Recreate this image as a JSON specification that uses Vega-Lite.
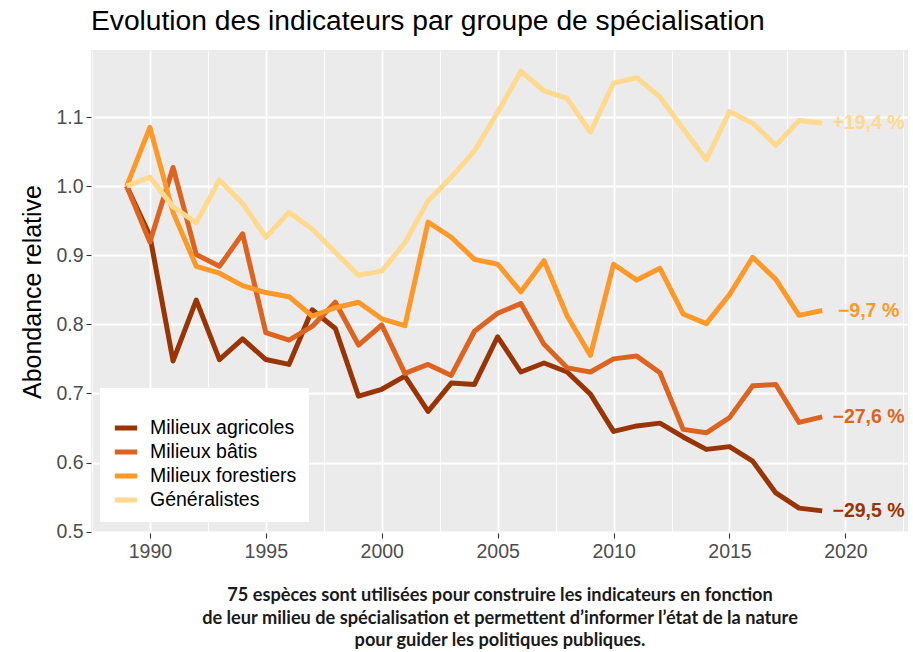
{
  "$schema": "https://vega.github.io/schema/vega-lite/v6.json",
  "width": 817,
  "height": 483,
  "autosize": {"type": "none"},
  "padding": {"left": 91, "top": 50, "right": 5, "bottom": 119},
  "background": "white",
  "config": {
    "font": "Liberation Sans",
    "view": {"fill": "#EBEBEB", "stroke": null}
  },
  "title": {
    "text": "Evolution des indicateurs par groupe de spécialisation",
    "anchor": "start",
    "frame": "group",
    "fontSize": 28.2,
    "fontWeight": "normal",
    "color": "#000000",
    "baseline": "alphabetic",
    "offset": 20,
    "dy": 28
  },
  "datasets": {
    "series": [
      {"annee": 1989, "groupe": "Milieux agricoles", "valeur": 1.0},
      {"annee": 1990, "groupe": "Milieux agricoles", "valeur": 0.928},
      {"annee": 1991, "groupe": "Milieux agricoles", "valeur": 0.747},
      {"annee": 1992, "groupe": "Milieux agricoles", "valeur": 0.835},
      {"annee": 1993, "groupe": "Milieux agricoles", "valeur": 0.749},
      {"annee": 1994, "groupe": "Milieux agricoles", "valeur": 0.779},
      {"annee": 1995, "groupe": "Milieux agricoles", "valeur": 0.749},
      {"annee": 1996, "groupe": "Milieux agricoles", "valeur": 0.742},
      {"annee": 1997, "groupe": "Milieux agricoles", "valeur": 0.821},
      {"annee": 1998, "groupe": "Milieux agricoles", "valeur": 0.794},
      {"annee": 1999, "groupe": "Milieux agricoles", "valeur": 0.696},
      {"annee": 2000, "groupe": "Milieux agricoles", "valeur": 0.706},
      {"annee": 2001, "groupe": "Milieux agricoles", "valeur": 0.725},
      {"annee": 2002, "groupe": "Milieux agricoles", "valeur": 0.674},
      {"annee": 2003, "groupe": "Milieux agricoles", "valeur": 0.715},
      {"annee": 2004, "groupe": "Milieux agricoles", "valeur": 0.713},
      {"annee": 2005, "groupe": "Milieux agricoles", "valeur": 0.782},
      {"annee": 2006, "groupe": "Milieux agricoles", "valeur": 0.731},
      {"annee": 2007, "groupe": "Milieux agricoles", "valeur": 0.744},
      {"annee": 2008, "groupe": "Milieux agricoles", "valeur": 0.731},
      {"annee": 2009, "groupe": "Milieux agricoles", "valeur": 0.699},
      {"annee": 2010, "groupe": "Milieux agricoles", "valeur": 0.645},
      {"annee": 2011, "groupe": "Milieux agricoles", "valeur": 0.653},
      {"annee": 2012, "groupe": "Milieux agricoles", "valeur": 0.657},
      {"annee": 2013, "groupe": "Milieux agricoles", "valeur": 0.637},
      {"annee": 2014, "groupe": "Milieux agricoles", "valeur": 0.619},
      {"annee": 2015, "groupe": "Milieux agricoles", "valeur": 0.623},
      {"annee": 2016, "groupe": "Milieux agricoles", "valeur": 0.602},
      {"annee": 2017, "groupe": "Milieux agricoles", "valeur": 0.556},
      {"annee": 2018, "groupe": "Milieux agricoles", "valeur": 0.534},
      {"annee": 2019, "groupe": "Milieux agricoles", "valeur": 0.530},
      {"annee": 1989, "groupe": "Milieux bâtis", "valeur": 1.0},
      {"annee": 1990, "groupe": "Milieux bâtis", "valeur": 0.919},
      {"annee": 1991, "groupe": "Milieux bâtis", "valeur": 1.027},
      {"annee": 1992, "groupe": "Milieux bâtis", "valeur": 0.901},
      {"annee": 1993, "groupe": "Milieux bâtis", "valeur": 0.884},
      {"annee": 1994, "groupe": "Milieux bâtis", "valeur": 0.931},
      {"annee": 1995, "groupe": "Milieux bâtis", "valeur": 0.788},
      {"annee": 1996, "groupe": "Milieux bâtis", "valeur": 0.777},
      {"annee": 1997, "groupe": "Milieux bâtis", "valeur": 0.797},
      {"annee": 1998, "groupe": "Milieux bâtis", "valeur": 0.832},
      {"annee": 1999, "groupe": "Milieux bâtis", "valeur": 0.770},
      {"annee": 2000, "groupe": "Milieux bâtis", "valeur": 0.799},
      {"annee": 2001, "groupe": "Milieux bâtis", "valeur": 0.729},
      {"annee": 2002, "groupe": "Milieux bâtis", "valeur": 0.742},
      {"annee": 2003, "groupe": "Milieux bâtis", "valeur": 0.726},
      {"annee": 2004, "groupe": "Milieux bâtis", "valeur": 0.790},
      {"annee": 2005, "groupe": "Milieux bâtis", "valeur": 0.816},
      {"annee": 2006, "groupe": "Milieux bâtis", "valeur": 0.830},
      {"annee": 2007, "groupe": "Milieux bâtis", "valeur": 0.771},
      {"annee": 2008, "groupe": "Milieux bâtis", "valeur": 0.737},
      {"annee": 2009, "groupe": "Milieux bâtis", "valeur": 0.731},
      {"annee": 2010, "groupe": "Milieux bâtis", "valeur": 0.750},
      {"annee": 2011, "groupe": "Milieux bâtis", "valeur": 0.754},
      {"annee": 2012, "groupe": "Milieux bâtis", "valeur": 0.730},
      {"annee": 2013, "groupe": "Milieux bâtis", "valeur": 0.648},
      {"annee": 2014, "groupe": "Milieux bâtis", "valeur": 0.643},
      {"annee": 2015, "groupe": "Milieux bâtis", "valeur": 0.665},
      {"annee": 2016, "groupe": "Milieux bâtis", "valeur": 0.711},
      {"annee": 2017, "groupe": "Milieux bâtis", "valeur": 0.713},
      {"annee": 2018, "groupe": "Milieux bâtis", "valeur": 0.658},
      {"annee": 2019, "groupe": "Milieux bâtis", "valeur": 0.666},
      {"annee": 1989, "groupe": "Milieux forestiers", "valeur": 1.0},
      {"annee": 1990, "groupe": "Milieux forestiers", "valeur": 1.085},
      {"annee": 1991, "groupe": "Milieux forestiers", "valeur": 0.962},
      {"annee": 1992, "groupe": "Milieux forestiers", "valeur": 0.884},
      {"annee": 1993, "groupe": "Milieux forestiers", "valeur": 0.874},
      {"annee": 1994, "groupe": "Milieux forestiers", "valeur": 0.856},
      {"annee": 1995, "groupe": "Milieux forestiers", "valeur": 0.846},
      {"annee": 1996, "groupe": "Milieux forestiers", "valeur": 0.840},
      {"annee": 1997, "groupe": "Milieux forestiers", "valeur": 0.812},
      {"annee": 1998, "groupe": "Milieux forestiers", "valeur": 0.824},
      {"annee": 1999, "groupe": "Milieux forestiers", "valeur": 0.832},
      {"annee": 2000, "groupe": "Milieux forestiers", "valeur": 0.808},
      {"annee": 2001, "groupe": "Milieux forestiers", "valeur": 0.798},
      {"annee": 2002, "groupe": "Milieux forestiers", "valeur": 0.948},
      {"annee": 2003, "groupe": "Milieux forestiers", "valeur": 0.926},
      {"annee": 2004, "groupe": "Milieux forestiers", "valeur": 0.894},
      {"annee": 2005, "groupe": "Milieux forestiers", "valeur": 0.887},
      {"annee": 2006, "groupe": "Milieux forestiers", "valeur": 0.847},
      {"annee": 2007, "groupe": "Milieux forestiers", "valeur": 0.892},
      {"annee": 2008, "groupe": "Milieux forestiers", "valeur": 0.812},
      {"annee": 2009, "groupe": "Milieux forestiers", "valeur": 0.755},
      {"annee": 2010, "groupe": "Milieux forestiers", "valeur": 0.887},
      {"annee": 2011, "groupe": "Milieux forestiers", "valeur": 0.864},
      {"annee": 2012, "groupe": "Milieux forestiers", "valeur": 0.881},
      {"annee": 2013, "groupe": "Milieux forestiers", "valeur": 0.815},
      {"annee": 2014, "groupe": "Milieux forestiers", "valeur": 0.801},
      {"annee": 2015, "groupe": "Milieux forestiers", "valeur": 0.843},
      {"annee": 2016, "groupe": "Milieux forestiers", "valeur": 0.897},
      {"annee": 2017, "groupe": "Milieux forestiers", "valeur": 0.865},
      {"annee": 2018, "groupe": "Milieux forestiers", "valeur": 0.813},
      {"annee": 2019, "groupe": "Milieux forestiers", "valeur": 0.820},
      {"annee": 1989, "groupe": "Généralistes", "valeur": 1.0},
      {"annee": 1990, "groupe": "Généralistes", "valeur": 1.013},
      {"annee": 1991, "groupe": "Généralistes", "valeur": 0.970},
      {"annee": 1992, "groupe": "Généralistes", "valeur": 0.947},
      {"annee": 1993, "groupe": "Généralistes", "valeur": 1.009},
      {"annee": 1994, "groupe": "Généralistes", "valeur": 0.975},
      {"annee": 1995, "groupe": "Généralistes", "valeur": 0.926},
      {"annee": 1996, "groupe": "Généralistes", "valeur": 0.962},
      {"annee": 1997, "groupe": "Généralistes", "valeur": 0.938},
      {"annee": 1998, "groupe": "Généralistes", "valeur": 0.904},
      {"annee": 1999, "groupe": "Généralistes", "valeur": 0.871},
      {"annee": 2000, "groupe": "Généralistes", "valeur": 0.877},
      {"annee": 2001, "groupe": "Généralistes", "valeur": 0.918},
      {"annee": 2002, "groupe": "Généralistes", "valeur": 0.979},
      {"annee": 2003, "groupe": "Généralistes", "valeur": 1.013},
      {"annee": 2004, "groupe": "Généralistes", "valeur": 1.051},
      {"annee": 2005, "groupe": "Généralistes", "valeur": 1.107},
      {"annee": 2006, "groupe": "Généralistes", "valeur": 1.166},
      {"annee": 2007, "groupe": "Généralistes", "valeur": 1.138},
      {"annee": 2008, "groupe": "Généralistes", "valeur": 1.127},
      {"annee": 2009, "groupe": "Généralistes", "valeur": 1.078},
      {"annee": 2010, "groupe": "Généralistes", "valeur": 1.149},
      {"annee": 2011, "groupe": "Généralistes", "valeur": 1.157},
      {"annee": 2012, "groupe": "Généralistes", "valeur": 1.129},
      {"annee": 2013, "groupe": "Généralistes", "valeur": 1.083},
      {"annee": 2014, "groupe": "Généralistes", "valeur": 1.038},
      {"annee": 2015, "groupe": "Généralistes", "valeur": 1.108},
      {"annee": 2016, "groupe": "Généralistes", "valeur": 1.091},
      {"annee": 2017, "groupe": "Généralistes", "valeur": 1.059},
      {"annee": 2018, "groupe": "Généralistes", "valeur": 1.095},
      {"annee": 2019, "groupe": "Généralistes", "valeur": 1.091}
    ],
    "etiquettes": [
      {"annee": 2021, "groupe": "Milieux agricoles", "valeur": 0.530, "texte": "−29,5 %"},
      {"annee": 2021, "groupe": "Milieux bâtis", "valeur": 0.666, "texte": "−27,6 %"},
      {"annee": 2021, "groupe": "Milieux forestiers", "valeur": 0.820, "texte": "−9,7 %"},
      {"annee": 2021, "groupe": "Généralistes", "valeur": 1.091, "texte": "+19,4 %"}
    ]
  },
  "layer": [
    {
      "data": {"name": "series"},
      "mark": {"type": "line", "strokeWidth": 5, "strokeJoin": "round", "strokeCap": "butt"},
      "encoding": {
        "x": {
          "field": "annee",
          "type": "quantitative",
          "scale": {"domain": [1987.46, 2022.7], "nice": false, "zero": false},
          "axis": {
            "values": [1987.5, 1990, 1992.5, 1995, 1997.5, 2000, 2002.5, 2005, 2007.5, 2010, 2012.5, 2015, 2017.5, 2020, 2022.5],
            "format": "d",
            "labelExpr": "datum.value % 5 == 0 ? datum.label : ''",
            "labelFontSize": 19.5,
            "labelColor": "#4D4D4D",
            "labelPadding": 4,
            "labelFlush": false,
            "labelOverlap": false,
            "domain": false,
            "tickSize": 5,
            "tickColor": "#333333",
            "tickWidth": 1.1,
            "tickOpacity": {"condition": {"test": "datum.value % 5 != 0", "value": 0}, "value": 1},
            "grid": true,
            "gridColor": "#FFFFFF",
            "gridWidth": {"condition": {"test": "datum.value % 5 != 0", "value": 0.8}, "value": 1.8},
            "title": [
              "75 espèces sont utilisées pour construire les indicateurs en fonction",
              "de leur milieu de spécialisation et permettent d’informer l’état de la nature",
              "pour guider les politiques publiques."
            ],
            "titleFont": "Lato",
            "titleFontWeight": "bold",
            "titleFontSize": 18.2,
            "titleLineHeight": 22.5,
            "titleColor": "#1A1A1A",
            "titlePadding": 26
          }
        },
        "y": {
          "field": "valeur",
          "type": "quantitative",
          "scale": {"domain": [0.498, 1.197], "nice": false, "zero": false},
          "axis": {
            "values": [0.5, 0.55, 0.6, 0.65, 0.7, 0.75, 0.8, 0.85, 0.9, 0.95, 1.0, 1.05, 1.1, 1.15],
            "format": ".1f",
            "labelExpr": "round(datum.value * 100) % 10 == 0 ? datum.label : ''",
            "labelFontSize": 19.5,
            "labelColor": "#4D4D4D",
            "labelPadding": 3,
            "labelFlush": false,
            "labelOverlap": false,
            "domain": false,
            "tickSize": 5,
            "tickColor": "#333333",
            "tickWidth": 1.1,
            "tickOpacity": {"condition": {"test": "round(datum.value * 100) % 10 != 0", "value": 0}, "value": 1},
            "grid": true,
            "gridColor": "#FFFFFF",
            "gridWidth": {"condition": {"test": "round(datum.value * 100) % 10 != 0", "value": 0.8}, "value": 1.8},
            "title": "Abondance relative",
            "titleFontSize": 25,
            "titleFontWeight": "normal",
            "titleColor": "#000000",
            "titlePadding": 10
          }
        },
        "color": {
          "field": "groupe",
          "type": "nominal",
          "scale": {
            "domain": ["Milieux agricoles", "Milieux bâtis", "Milieux forestiers", "Généralistes"],
            "range": ["#993404", "#DD6420", "#FE9929", "#FED98E"]
          },
          "legend": {
            "orient": "none",
            "legendX": 9,
            "legendY": 338,
            "title": " ",
            "titleFontSize": 10,
            "titlePadding": 4,
            "fillColor": "#FFFFFF",
            "padding": 12,
            "symbolType": "stroke",
            "symbolStrokeWidth": 5,
            "symbolSize": 500,
            "labelFontSize": 19.5,
            "labelColor": "#000000",
            "labelOffset": 10,
            "rowPadding": 0
          }
        }
      }
    },
    {
      "data": {"name": "etiquettes"},
      "mark": {"type": "text", "fontWeight": "bold", "fontSize": 19.5, "align": "center", "baseline": "middle"},
      "encoding": {
        "x": {"field": "annee", "type": "quantitative"},
        "y": {"field": "valeur", "type": "quantitative"},
        "text": {"field": "texte"},
        "color": {"field": "groupe", "type": "nominal", "legend": null}
      }
    }
  ]
}
